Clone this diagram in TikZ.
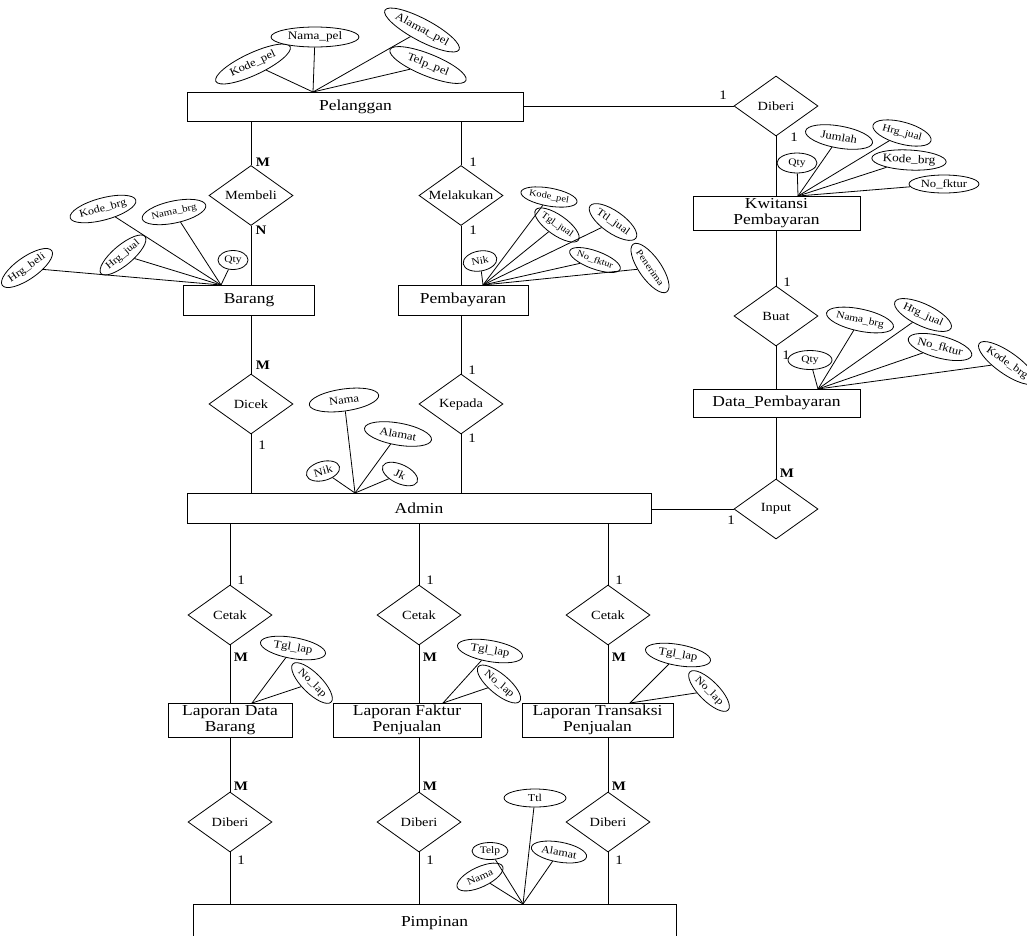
\documentclass[tikz,border=0pt]{standalone}
\usepackage{fontspec}
\setmainfont[FakeStretch=1.15]{Liberation Serif}
\usetikzlibrary{shapes.geometric}
\newcommand{\fsz}[2]{\fontsize{#1}{#2}\selectfont}
\tikzset{
  ent/.style={draw, rectangle, inner sep=0pt, align=center, font=\fsz{15.2}{15.5}},
  rel/.style={draw, diamond, aspect=1.4, inner sep=0pt, minimum width=84pt, minimum height=60pt, font=\fsz{12.5}{14}},
  attr/.style={draw, ellipse, inner sep=0pt, fill=white, font=\fsz{11}{12}},
  card/.style={inner sep=0pt, font=\fsz{13}{13}},
  cardb/.style={inner sep=0pt, font=\fsz{13}{13}\bfseries}
}
\begin{document}
\begin{tikzpicture}[x=1pt,y=-1pt,line width=0.8pt]
\fill[white] (0,0) rectangle (1027,935);
\useasboundingbox (0,0) rectangle (1027,935);

% entities
\node[ent, minimum width=336pt, minimum height=29pt] (pel) at (355.5,106.5) {Pelanggan};
\node[ent, minimum width=131pt, minimum height=30pt] (bar) at (249,300) {Barang};
\node[ent, minimum width=130pt, minimum height=30pt] (pem) at (463,300) {Pembayaran};
\node[ent, minimum width=167pt, minimum height=34pt] (kw) at (776.5,213) {Kwitansi\\Pembayaran};
\node[ent, minimum width=167pt, minimum height=28pt] (dp) at (776.5,403) {Data\_Pembayaran};
\node[ent, minimum width=464pt, minimum height=30pt] (adm) at (419,508) {Admin};
\node[ent, minimum width=124pt, minimum height=34pt] (lap1) at (230,720) {Laporan Data\\Barang};
\node[ent, minimum width=148pt, minimum height=34pt] (lap2) at (407,720) {Laporan Faktur\\Penjualan};
\node[ent, minimum width=151pt, minimum height=34pt] (lap3) at (597.5,720) {Laporan Transaksi\\Penjualan};
\node[ent, minimum width=483pt, minimum height=38pt] (pim) at (434.5,923) {Pimpinan};

% relationships
\node[rel] (dib1) at (776,106) {Diberi};
\node[rel] (mem) at (251,195.5) {Membeli};
\node[rel] (mel) at (461,195.5) {Melakukan};
\node[rel] (buat) at (776,316) {Buat};
\node[rel] (dic) at (251,404) {Dicek};
\node[rel] (kep) at (461,404) {Kepada};
\node[rel] (inp) at (776,509) {Input};
\node[rel] (cet1) at (230,615) {Cetak};
\node[rel] (cet2) at (419,615) {Cetak};
\node[rel] (cet3) at (608,615) {Cetak};
\node[rel] (dib2) at (230,822) {Diberi};
\node[rel] (dib3) at (419,822) {Diberi};
\node[rel] (dib4) at (608,822) {Diberi};

% relationship connectors
\draw (dib1.west -| pel.east) -- (dib1.west);
\draw (mem.north |- pel.south) -- (mem.north);
\draw (mem.south) -- (mem.south |- bar.north);
\draw (mel.north |- pel.south) -- (mel.north);
\draw (mel.south) -- (mel.south |- pem.north);
\draw (dib1.south) -- (dib1.south |- kw.north);
\draw (buat.north |- kw.south) -- (buat.north);
\draw (buat.south) -- (buat.south |- dp.north);
\draw (inp.north |- dp.south) -- (inp.north);
\draw (inp.west) -- (inp.west -| adm.east);
\draw (dic.north |- bar.south) -- (dic.north);
\draw (dic.south) -- (dic.south |- adm.north);
\draw (kep.north |- pem.south) -- (kep.north);
\draw (kep.south) -- (kep.south |- adm.north);
\draw (cet1.north |- adm.south) -- (cet1.north);
\draw (cet1.south) -- (cet1.south |- lap1.north);
\draw (cet2.north |- adm.south) -- (cet2.north);
\draw (cet2.south) -- (cet2.south |- lap2.north);
\draw (cet3.north |- adm.south) -- (cet3.north);
\draw (cet3.south) -- (cet3.south |- lap3.north);
\draw (dib2.north |- lap1.south) -- (dib2.north);
\draw (dib2.south) -- (dib2.south |- pim.north);
\draw (dib3.north |- lap2.south) -- (dib3.north);
\draw (dib3.south) -- (dib3.south |- pim.north);
\draw (dib4.north |- lap3.south) -- (dib4.north);
\draw (dib4.south) -- (dib4.south |- pim.north);

% cardinalities
\node[card] (c01) at (723,95) {1};
\node[card] (c02) at (794,137) {1};
\node[cardb] (c03) at (263,162) {M};
\node[cardb] (c04) at (261,230) {N};
\node[card] (c05) at (473,162) {1};
\node[card] (c06) at (473,230) {1};
\node[cardb] (c07) at (263,365) {M};
\node[card] (c08) at (262,445) {1};
\node[card] (c09) at (472,370) {1};
\node[card] (c10) at (472,438) {1};
\node[card] (c11) at (787,282) {1};
\node[card] (c12) at (786,355) {1};
\node[cardb] (c13) at (787,473) {M};
\node[card] (c14) at (731,520) {1};
\node[card] (c15) at (241,580) {1};
\node[card] (c16) at (430,580) {1};
\node[card] (c17) at (619,580) {1};
\node[cardb] (c18) at (241,657) {M};
\node[cardb] (c19) at (430,657) {M};
\node[cardb] (c20) at (619,657) {M};
\node[cardb] (c21) at (241,786) {M};
\node[cardb] (c22) at (430,786) {M};
\node[cardb] (c23) at (619,786) {M};
\node[card] (c24) at (241,860) {1};
\node[card] (c25) at (430,860) {1};
\node[card] (c26) at (619,860) {1};

% attribute convergence points
\coordinate (P) at (313,92);
\coordinate (K) at (798,196);
\coordinate (B) at (221,285);
\coordinate (PB) at (483,285);
\coordinate (D) at (818,389);
\coordinate (A) at (355,493);
\coordinate (L1) at (252,703);
\coordinate (L2) at (443,703);
\coordinate (L3) at (630,703);
\coordinate (PM) at (523,904);

% Pelanggan attributes
\node[attr, minimum width=82pt, minimum height=22pt, rotate=25] (kp1) at (253,64) {Kode\_pel};
\node[attr, minimum width=88pt, minimum height=20pt, font=\fsz{11.5}{12}] (np1) at (315,37) {Nama\_pel};
\node[attr, minimum width=84pt, minimum height=22pt, rotate=-28] (ap1) at (422,30) {Alamat\_pel};
\node[attr, minimum width=82pt, minimum height=22pt, rotate=-22] (tp1) at (428,65) {Telp\_pel};
\foreach \n in {kp1,np1,ap1,tp1} \draw (\n) -- (P);

% Kwitansi attributes
\node[attr, minimum width=40pt, minimum height=20pt, font=\fsz{10}{11}] (qty1) at (797,163) {Qty};
\node[attr, minimum width=68pt, minimum height=22pt, rotate=-10] (jml) at (839,137) {Jumlah};
\node[attr, minimum width=60pt, minimum height=22pt, rotate=-15, font=\fsz{10}{11}] (hj1) at (902,133) {Hrg\_jual};
\node[attr, minimum width=70pt, minimum height=20pt, rotate=-3, font=\fsz{11.5}{12}] (kb1) at (909,160) {Kode\_brg};
\node[attr, minimum width=70pt, minimum height=18pt] (nf1) at (944,184) {No\_fktur};
\foreach \n in {qty1,jml,hj1,kb1,nf1} \draw (\n) -- (K);

% Barang attributes
\node[attr, minimum width=64pt, minimum height=22pt, rotate=15, font=\fsz{10.5}{11}] (kb2) at (103,209) {Kode\_brg};
\node[attr, minimum width=58pt, minimum height=22pt, rotate=12, font=\fsz{9.5}{10}] (nb2) at (174,212) {Nama\_brg};
\node[attr, minimum width=58pt, minimum height=22pt, rotate=35, font=\fsz{10.5}{11}] (hb) at (27,268) {Hrg\_beli};
\node[attr, minimum width=48pt, minimum height=20pt, rotate=40, font=\fsz{10}{11}] (hj2) at (123,255) {Hrg\_jual};
\node[attr, minimum width=30pt, minimum height=19pt, font=\fsz{10}{11}] (qty2) at (233,260) {Qty};
\foreach \n in {kb2,nb2,hb,hj2,qty2} \draw (\n) -- (B);

% Pembayaran attributes
\node[attr, minimum width=52pt, minimum height=18pt, rotate=-10, font=\fsz{9}{10}] (kp2) at (549,197) {Kode\_pel};
\node[attr, minimum width=52pt, minimum height=20pt, rotate=-35, font=\fsz{9.5}{10}] (tj) at (557,225) {Tgl\_jual};
\node[attr, minimum width=56pt, minimum height=22pt, rotate=-35, font=\fsz{10.5}{11}] (ttj) at (613,222) {Ttl\_jual};
\node[attr, minimum width=48pt, minimum height=18pt, rotate=-20, font=\fsz{9}{10}] (nf2) at (595,260) {No\_fktur};
\node[attr, minimum width=54pt, minimum height=22pt, rotate=-55, font=\fsz{9.5}{10}] (pen) at (650,268) {Penerima};
\node[attr, minimum width=34pt, minimum height=20pt, rotate=10, font=\fsz{10}{11}] (nik1) at (480,261) {Nik};
\foreach \n in {kp2,tj,ttj,nf2,pen,nik1} \draw (\n) -- (PB);

% Data_Pembayaran attributes
\node[attr, minimum width=44pt, minimum height=19pt, font=\fsz{10}{11}] (qty3) at (810,360) {Qty};
\node[attr, minimum width=66pt, minimum height=22pt, rotate=-12, font=\fsz{10}{11}] (nb3) at (860,320) {Nama\_brg};
\node[attr, minimum width=62pt, minimum height=22pt, rotate=-25, font=\fsz{10.5}{11}] (hj3) at (923,315) {Hrg\_jual};
\node[attr, minimum width=62pt, minimum height=22pt, rotate=-15] (nf3) at (940,347) {No\_fktur};
\node[attr, minimum width=64pt, minimum height=22pt, rotate=-35, font=\fsz{10.5}{11}] (kb3) at (1007,363) {Kode\_brg};
\foreach \n in {qty3,nb3,hj3,nf3,kb3} \draw (\n) -- (D);

% Admin attributes
\node[attr, minimum width=70pt, minimum height=22pt, rotate=8] (nama1) at (344,400) {Nama};
\node[attr, minimum width=68pt, minimum height=22pt, rotate=-10] (alamat1) at (398,434) {Alamat};
\node[attr, minimum width=34pt, minimum height=19pt, rotate=15] (nik2) at (323,471) {Nik};
\node[attr, minimum width=38pt, minimum height=19pt, rotate=-25] (jk) at (400,474) {Jk};
\foreach \n in {nama1,alamat1,nik2,jk} \draw (\n) -- (A);

% Laporan attributes
\node[attr, minimum width=66pt, minimum height=21pt, rotate=-10] (tl1) at (293,648) {Tgl\_lap};
\node[attr, minimum width=54pt, minimum height=20pt, rotate=-45, font=\fsz{10.5}{11}] (nl1) at (312,683) {No\_lap};
\node[attr, minimum width=66pt, minimum height=21pt, rotate=-10] (tl2) at (490,651) {Tgl\_lap};
\node[attr, minimum width=54pt, minimum height=20pt, rotate=-40, font=\fsz{10.5}{11}] (nl2) at (499,684) {No\_lap};
\node[attr, minimum width=66pt, minimum height=21pt, rotate=-10] (tl3) at (678,655) {Tgl\_lap};
\node[attr, minimum width=54pt, minimum height=20pt, rotate=-45, font=\fsz{10.5}{11}] (nl3) at (709,691) {No\_lap};
\draw (tl1) -- (L1); \draw (nl1) -- (L1);
\draw (tl2) -- (L2); \draw (nl2) -- (L2);
\draw (tl3) -- (L3); \draw (nl3) -- (L3);

% Pimpinan attributes
\node[attr, minimum width=62pt, minimum height=18pt, font=\fsz{10.5}{11}] (ttl) at (535,798) {Ttl};
\node[attr, minimum width=36pt, minimum height=17pt, font=\fsz{10}{11}] (telp) at (490,851) {Telp};
\node[attr, minimum width=56pt, minimum height=20pt, rotate=-10, font=\fsz{10.5}{11}] (alamat2) at (559,852) {Alamat};
\node[attr, minimum width=50pt, minimum height=20pt, rotate=25, font=\fsz{10}{11}] (nama2) at (480,877) {Nama};
\foreach \n in {ttl,telp,alamat2,nama2} \draw (\n) -- (PM);
\end{tikzpicture}
\end{document}
